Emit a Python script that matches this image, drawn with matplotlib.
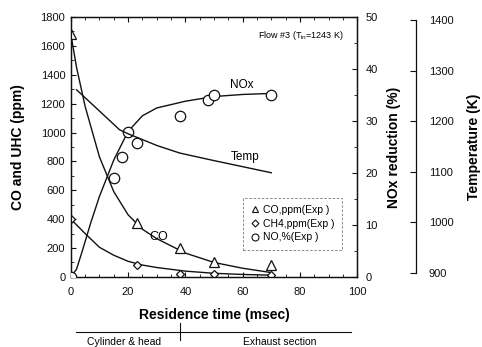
#!/usr/bin/env python3
import matplotlib

matplotlib.use("Agg")
import matplotlib.pyplot as plt
import matplotlib.transforms as mtransforms
from matplotlib.lines import Line2D
from matplotlib.ticker import MultipleLocator

# measured points
CO_X = [0, 23, 38, 50, 70]
CO_PPM = [1680, 375, 200, 100, 80]
CH4_X = [0, 23, 38, 50, 70]
CH4_PPM = [400, 80, 20, 20, 15]
NO_X = [0, 15, 18, 20, 23, 38, 48, 50, 70]
NO_PCT = [0, 19.0, 23.0, 27.8, 25.8, 31.0, 34.0, 35.0, 35.0]

# fitted curves
CO_FIT_X = [0, 2, 5, 10, 15, 20, 25, 30, 40, 50, 60, 70]
CO_FIT = [1680, 1450, 1180, 830, 590, 430, 330, 265, 165, 100, 60, 30]
CH4_FIT_X = [0, 5, 10, 15, 20, 25, 30, 40, 50, 60, 70]
CH4_FIT = [400, 300, 205, 150, 108, 82, 65, 40, 25, 17, 12]
NOX_FIT_X = [0, 2, 4, 7, 10, 15, 20, 25, 30, 40, 50, 60, 70]
NOX_FIT = [0, 1.5, 5, 10.5, 15.5, 22.5, 28, 31, 32.5, 33.8, 34.7, 35.1, 35.3]
TEMP_X = [2, 10, 17, 20, 30, 38, 50, 60, 70]
TEMP_K = [1262, 1220, 1183, 1175, 1152, 1137, 1122, 1110, 1098]

X_TICKS = [0, 20, 40, 60, 80, 100]
SECTION_BOUNDARY = 38
SECTIONS = ["Cylinder & head", "Exhaust section"]
LEGEND_LABELS = ["CO,ppm(Exp )", "CH4,ppm(Exp )", "NO,%(Exp )"]

INK = "#111111"


def main() -> None:
    plt.rcParams["font.family"] = ["Liberation Sans", "DejaVu Sans"]
    plt.rcParams["mathtext.fontset"] = "custom"
    plt.rcParams["mathtext.rm"] = "Liberation Sans"
    plt.rcParams["mathtext.it"] = "Liberation Sans"

    fig = plt.figure(figsize=(4.82, 3.47), dpi=100)
    ax = fig.add_axes([0.147, 0.202, 0.594, 0.749])
    ax_nox = ax.twinx()
    ax_temp = ax.twinx()

    # main axis: CO / CH4
    ax.plot(CO_FIT_X, CO_FIT, color=INK, lw=1.0)
    ax.plot(CH4_FIT_X, CH4_FIT, color=INK, lw=1.0)
    ax.plot(CO_X, CO_PPM, ls="none", marker="^", ms=7, mfc="white", mec=INK, mew=0.9, zorder=5)
    ax.plot(CH4_X, CH4_PPM, ls="none", marker="D", ms=4.5, mfc="white", mec=INK, mew=0.9, zorder=5)
    ax.set_xlim(0, 100)
    ax.set_ylim(0, 1800)
    ax.set_xticks(X_TICKS)
    ax.set_yticks(range(0, 1801, 200))
    ax.xaxis.set_minor_locator(MultipleLocator(5))
    ax.yaxis.set_minor_locator(MultipleLocator(100))
    ax.tick_params(which="both", direction="in", top=True, labelsize=8, colors=INK)
    ax.tick_params(which="major", length=3.5)
    ax.tick_params(which="minor", length=2)
    ax.tick_params(axis="x", pad=7)
    ax.tick_params(axis="y", pad=4)
    ax.set_xlabel("Residence time (msec)", fontsize=10, fontweight="bold")
    ax.set_ylabel("CO and UHC (ppm)", fontsize=10, fontweight="bold")
    ax.xaxis.set_label_coords(0.5, -0.118)
    ax.yaxis.set_label_coords(-0.16, 0.5)

    # NOx reduction axis
    ax_nox.plot(NOX_FIT_X, NOX_FIT, color=INK, lw=1.0)
    ax_nox.plot(NO_X, NO_PCT, ls="none", marker="o", ms=7.5, mfc="white", mec=INK, mew=0.9, zorder=5)
    ax_nox.set_ylim(0, 50)
    ax_nox.set_yticks(range(0, 51, 10))
    ax_nox.yaxis.set_minor_locator(MultipleLocator(5))
    ax_nox.tick_params(which="both", direction="in", labelsize=8, pad=6, colors=INK)
    ax_nox.tick_params(which="major", length=3.5)
    ax_nox.tick_params(which="minor", length=2)
    ax_nox.set_ylabel("NOx reduction (%)", fontsize=10, fontweight="bold")
    ax_nox.yaxis.set_label_coords(1.105, 0.5)

    # temperature axis, offset to the right
    ax_temp.plot(TEMP_X, TEMP_K, color=INK, lw=1.0)
    ax_temp.spines["right"].set_position(("axes", 1.206))
    ax_temp.spines["right"].set_bounds(900, 1400)
    for side in ("top", "bottom", "left"):
        ax_temp.spines[side].set_visible(False)
    ax_temp.set_ylim(892, 1406)
    ax_temp.set_yticks(range(900, 1401, 100))
    ax_temp.tick_params(direction="in", length=4, labelsize=8, pad=9, colors=INK)
    ax_temp.set_ylabel("Temperature (K)", fontsize=10, fontweight="bold")
    ax_temp.yaxis.set_label_coords(1.385, 0.5)

    for a in (ax, ax_nox, ax_temp):
        for sp in a.spines.values():
            sp.set_linewidth(0.9)
            sp.set_color(INK)

    # curve labels
    ax.text(95.5, 1670, r"Flow #3 ($T_{in}$=1243 K)", fontsize=6.5, ha="right", va="center")
    ax.text(55.5, 1330, "NOx", fontsize=8.5, va="center")
    ax.text(56, 830, "Temp", fontsize=8.5, va="center")
    ax.text(27.5, 277, "CO", fontsize=9, va="center")

    handles = [
        Line2D([], [], ls="none", marker="^", ms=5, mfc="white", mec=INK, mew=0.8),
        Line2D([], [], ls="none", marker="D", ms=3.5, mfc="white", mec=INK, mew=0.8),
        Line2D([], [], ls="none", marker="o", ms=5, mfc="white", mec=INK, mew=0.8),
    ]
    leg = ax.legend(
        handles,
        LEGEND_LABELS,
        loc="upper left",
        bbox_to_anchor=(0.603, 0.305),
        borderaxespad=0,
        fontsize=7.5,
        frameon=True,
        fancybox=False,
        handlelength=0.8,
        handletextpad=0.4,
        labelspacing=0.35,
        borderpad=0.7,
    )
    frame = leg.get_frame()
    frame.set_linestyle((0, (3, 2)))
    frame.set_linewidth(0.6)
    frame.set_edgecolor("#555555")

    # engine section bar under the x axis
    trans = mtransforms.blended_transform_factory(ax.transData, ax.transAxes)
    ax.plot([1.7, 98], [-0.212, -0.212], color=INK, lw=0.8, transform=trans, clip_on=False)
    ax.plot([SECTION_BOUNDARY, SECTION_BOUNDARY], [-0.177, -0.242], color=INK, lw=0.8,
            transform=trans, clip_on=False)
    ax.text(18.5, -0.252, SECTIONS[0], fontsize=7.5, ha="center", va="center", transform=trans)
    ax.text(73, -0.252, SECTIONS[1], fontsize=7.5, ha="center", va="center", transform=trans)

    fig.savefig("out.png", dpi=100)
    plt.close(fig)


if __name__ == "__main__":
    main()
